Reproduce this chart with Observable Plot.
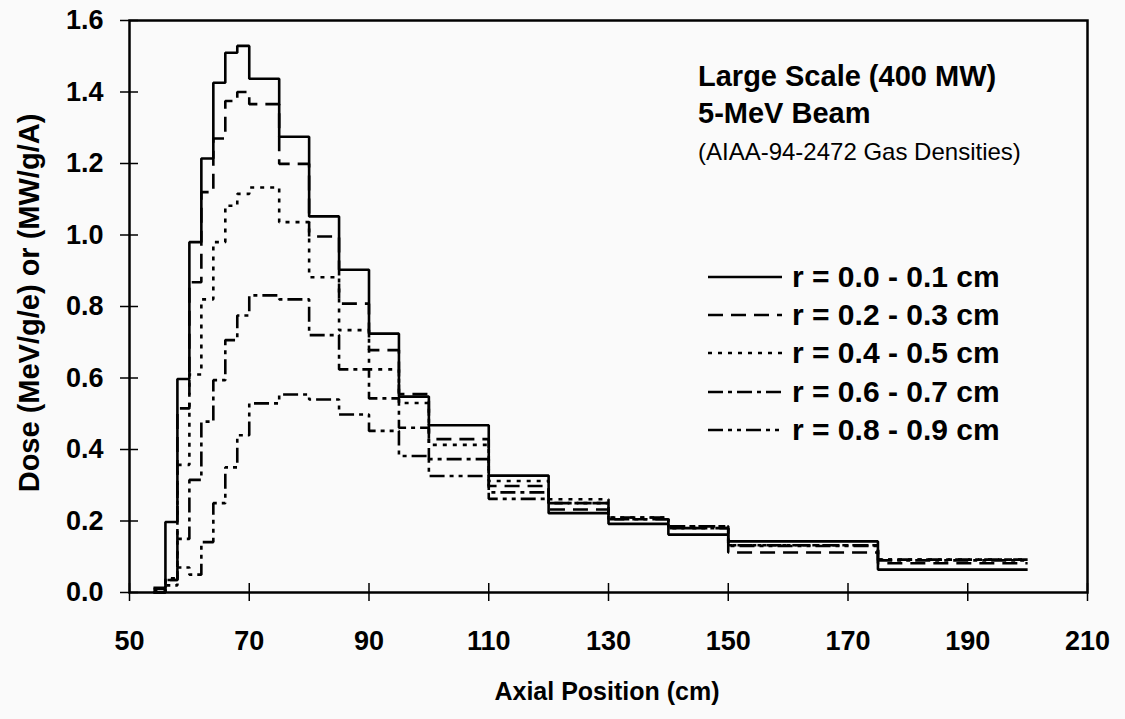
<!DOCTYPE html>
<html>
<head>
<meta charset="utf-8">
<script src="https://cdn.jsdelivr.net/npm/d3@7"></script>
<script src="https://cdn.jsdelivr.net/npm/@observablehq/plot@0.6"></script>
<style>
  html, body { margin: 0; padding: 0; background: #fafafa; }
  #chart { width: 1125px; height: 719px; }
</style>
</head>
<body>
<div id="chart"></div>
<script>
// Bin edges along the axial position (cm)
const binEdges = [54, 56, 58, 60, 62, 64, 66, 68, 70, 75, 80, 85, 90, 95, 100, 110, 120, 130, 140, 150, 175, 200];

// Dose per bin for each radial ring (MeV/g/e)
const r01 = [0.013, 0.197, 0.597, 0.980, 1.214, 1.426, 1.510, 1.529, 1.437, 1.275, 1.052, 0.903, 0.724, 0.548, 0.468, 0.327, 0.222, 0.192, 0.162, 0.143, 0.064];
const r23 = [0.010, 0.035, 0.515, 0.868, 1.120, 1.270, 1.375, 1.400, 1.366, 1.199, 0.996, 0.808, 0.678, 0.555, 0.429, 0.298, 0.232, 0.205, 0.180, 0.112, 0.082];
const r45 = [0.005, 0.040, 0.357, 0.610, 0.820, 0.980, 1.082, 1.115, 1.133, 1.036, 0.882, 0.734, 0.624, 0.530, 0.413, 0.312, 0.261, 0.210, 0.185, 0.132, 0.092];
const r67 = [0.000, 0.035, 0.150, 0.315, 0.478, 0.594, 0.706, 0.775, 0.831, 0.820, 0.720, 0.624, 0.543, 0.461, 0.373, 0.280, 0.250, 0.210, 0.185, 0.132, 0.092];
const r89 = [0.000, 0.020, 0.070, 0.050, 0.141, 0.250, 0.350, 0.440, 0.529, 0.554, 0.540, 0.498, 0.452, 0.382, 0.326, 0.262, 0.250, 0.205, 0.180, 0.130, 0.090];

const seriesNames = ["r = 0.0 - 0.1 cm", "r = 0.2 - 0.3 cm", "r = 0.4 - 0.5 cm", "r = 0.6 - 0.7 cm", "r = 0.8 - 0.9 cm"];
const seriesValues = [r01, r23, r45, r67, r89];
const dashPatterns = [null, "15,8", "4,6", "15,5,4,5", "15,5,4,5,4,5"];

const xTicks = [50, 70, 90, 110, 130, 150, 170, 190, 210];
const yTicks = [0, 0.2, 0.4, 0.6, 0.8, 1.0, 1.2, 1.4, 1.6];

const titleLines = ["Large Scale (400 MW)", "5-MeV Beam", "(AIAA-94-2472 Gas Densities)"];
const xLabel = "Axial Position (cm)";
const yLabel = "Dose (MeV/g/e) or (MW/g/A)";

// Build step rows: one point per bin start, plus the last edge
const rows = [];
seriesValues.forEach((vals, s) => {
  vals.forEach((v, i) => rows.push({ series: seriesNames[s], x: binEdges[i], y: v }));
  rows.push({ series: seriesNames[s], x: binEdges[binEdges.length - 1], y: vals[vals.length - 1] });
});

const font = "'Liberation Sans', Arial, Helvetica, sans-serif";

const lineMarks = seriesNames.map((name, s) =>
  Plot.line(rows.filter(d => d.series === name), {
    x: "x", y: "y", curve: "step-after",
    stroke: "#000", strokeWidth: 2.6,
    strokeDasharray: dashPatterns[s] || undefined,
    strokeLinecap: "butt", strokeLinejoin: "miter"
  })
);

const plot = Plot.plot({
  width: 1125,
  height: 719,
  marginLeft: 129,
  marginRight: 38,
  marginTop: 20,
  marginBottom: 127,
  style: { fontFamily: font, fontWeight: "bold", fontSize: "27px", background: "#fafafa", color: "#000", overflow: "visible" },
  x: { domain: [50, 210] },
  y: { domain: [0, 1.6] },
  marks: [
    Plot.axisX({ ticks: xTicks, tickSize: 9, tickPadding: 29, tickFormat: d => String(d), label: null, fontSize: 27, fontWeight: "bold", strokeWidth: 1.5 }),
    Plot.axisX({ ticks: xTicks, tickSize: -9, text: null, label: null, strokeWidth: 1.5 }),
    Plot.axisY({ ticks: yTicks, tickSize: 9, tickPadding: 17, tickFormat: d3.format(".1f"), label: null, fontSize: 27, fontWeight: "bold", strokeWidth: 1.5 }),
    Plot.axisY({ ticks: yTicks, tickSize: -9, text: null, label: null, strokeWidth: 1.5 }),
    ...lineMarks,
    Plot.frame({ stroke: "#000", strokeWidth: 2.5 })
  ]
});

document.getElementById("chart").appendChild(plot);

// Annotations and legend drawn into the same SVG
const svg = d3.select(plot);
const ann = svg.append("g").attr("font-family", font).attr("fill", "#000").attr("text-anchor", "start");

const titleY = [86, 123, 160];
titleLines.forEach((t, i) => {
  ann.append("text")
    .attr("x", 698).attr("y", titleY[i])
    .attr("text-anchor", "start")
    .attr("font-size", i < 2 ? 29 : 24)
    .attr("font-weight", i < 2 ? "bold" : "normal")
    .text(t);
});

const legendBase = [287, 325, 363, 402, 440];
seriesNames.forEach((name, s) => {
  const y = legendBase[s] - 10;
  ann.append("line")
    .attr("x1", 708).attr("x2", 782).attr("y1", y).attr("y2", y)
    .attr("stroke", "#000").attr("stroke-width", 2.6)
    .attr("stroke-dasharray", dashPatterns[s] || null);
  ann.append("text")
    .attr("x", 792).attr("y", legendBase[s])
    .attr("text-anchor", "start")
    .attr("font-size", 30).attr("font-weight", "bold")
    .text(name);
});

ann.append("text")
  .attr("x", 607).attr("y", 700)
  .attr("text-anchor", "middle")
  .attr("font-size", 25).attr("font-weight", "bold")
  .text(xLabel);

ann.append("text")
  .attr("transform", "translate(39,303) rotate(-90)")
  .attr("text-anchor", "middle")
  .attr("font-size", 29).attr("font-weight", "bold")
  .text(yLabel);
</script>
</body>
</html>
